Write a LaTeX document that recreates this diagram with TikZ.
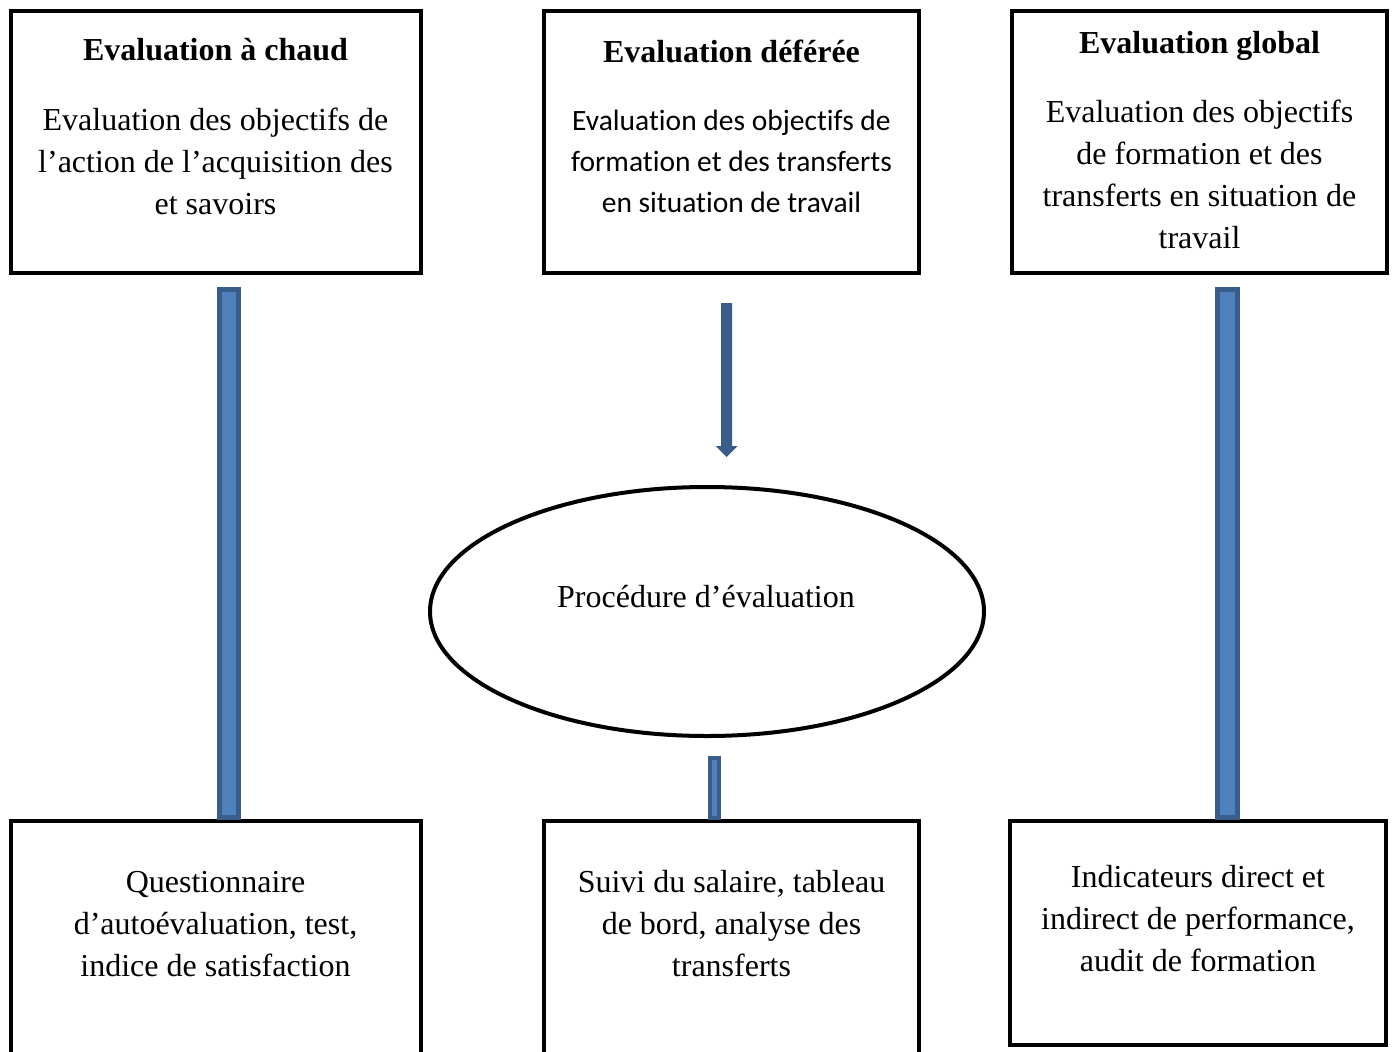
\documentclass[tikz,border=0pt]{standalone}
\usepackage{fontspec}
\setmainfont{Liberation Serif}
\newfontfamily\calibri[RawFeature=-liga,RawFeature=-clig,RawFeature=-calt,RawFeature=-dlig]{Carlito}
\usetikzlibrary{calc,shapes.geometric}
\definecolor{barfill}{HTML}{4F81BD}
\definecolor{barline}{HTML}{385D8A}
\begin{document}
\begin{tikzpicture}[x=1pt,y=-1pt,
  box/.style={draw, line width=4pt, rectangle, inner sep=0pt, outer sep=0pt},
  oval/.style={draw, line width=4pt, ellipse, inner sep=0pt, outer sep=0pt},
  txt/.style={font=\fontsize{32}{42}\selectfont, align=center, inner sep=0pt, anchor=base},
  ttl/.style={font=\fontsize{32}{42}\selectfont\bfseries, inner sep=0pt, anchor=base},
  stxt/.style={font=\calibri\fontsize{29.5}{41}\selectfont, align=center, inner sep=0pt, anchor=base},
  bar/.style={fill=barfill, draw=barline, line width=5pt},
  thinbar/.style={fill=barfill, draw=barline, line width=4.5pt},
  arrowbody/.style={fill=barline, draw=none}]
\useasboundingbox (0,0) rectangle (1395,1052);
\clip (0,0) rectangle (1395,1052);

% top row of boxes
\node[box, minimum width=410pt, minimum height=262pt] (tl) at (215.5,142) {};
\node[box, minimum width=375pt, minimum height=262pt] (tm) at (731.5,142) {};
\node[box, minimum width=375pt, minimum height=262pt] (tr) at (1199.5,142) {};

% bottom row of boxes (the two left ones run past the lower edge)
\node[box, minimum width=410pt, minimum height=300pt] (bl) at (215.5,971) {};
\node[box, minimum width=375pt, minimum height=300pt] (bm) at (731.5,971) {};
\node[box, minimum width=376pt, minimum height=224pt] (br) at (1198,933) {};

% central ellipse
\node[oval, minimum width=554pt, minimum height=249pt] (ell) at (707,611.5) {};

% texts of the top boxes (multi-line texts are placed by their last baseline)
\node[ttl] (tlt) at (215.5,60) {Evaluation à chaud};
\node[txt] (tlb) at (215.5,214) {Evaluation des objectifs de\\l’action de l’acquisition des\\et savoirs};
\node[ttl] (tmt) at (731.5,62) {Evaluation déférée};
\node[stxt] (tmb) at (731.5,212) {Evaluation des objectifs de\\formation et des transferts\\en situation de travail};
\node[ttl] (trt) at (1199.5,53) {Evaluation global};
\node[txt] (trb) at (1199.5,248) {Evaluation des objectifs\\de formation et des\\transferts en situation de\\travail};

% ellipse label
\node[txt] (ellt) at (706,607) {Procédure d’évaluation};

% texts of the bottom boxes
\node[txt] (blb) at (215.5,976) {Questionnaire\\d’autoévaluation, test,\\indice de satisfaction};
\node[txt] (bmb) at (731.5,976) {Suivi du salaire, tableau\\de bord, analyse des\\transferts};
\node[txt] (brb) at (1198,971) {Indicateurs direct et\\indirect de performance,\\audit de formation};

% left and right thick bars
\draw[bar] ($(tl.south)+(4,16.5)$) rectangle ($(bl.north)+(23,-3.5)$);
\draw[bar] ($(tr.south)+(18,16.5)$) rectangle ($(br.north)+(39.5,-3.5)$);

% middle block arrow towards the ellipse
\coordinate (atop) at ($(tm.south)+(-5,30)$);
\coordinate (atip) at ($(ell.north)+(19.5,-30)$);
\fill[arrowbody] ($(atop)+(-5.5,0)$) -- ($(atop)+(5.5,0)$)
  -- ($(atip)+(5.5,-11)$) -- ($(atip)+(11,-11)$) -- (atip)
  -- ($(atip)+(-11,-11)$) -- ($(atip)+(-5.5,-11)$) -- cycle;

% short bar below the ellipse
\draw[thinbar] ($(ell.south)+(3,22)$) rectangle ($(bm.north)+(-12.5,-3)$);
\end{tikzpicture}
\end{document}
